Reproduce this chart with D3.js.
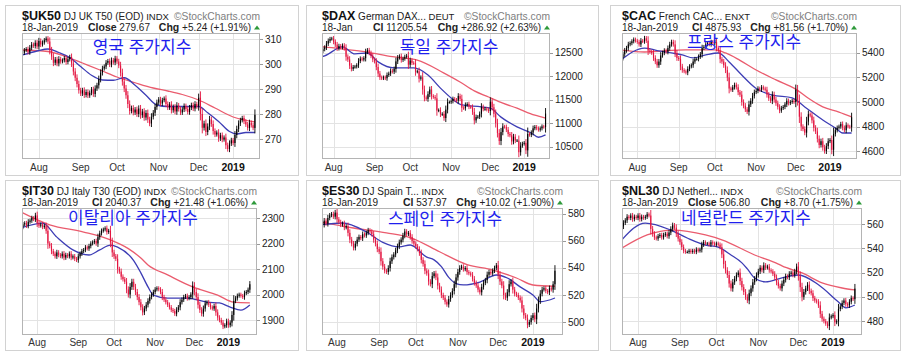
<!DOCTYPE html>
<html lang="ko">
<head>
<meta charset="UTF-8">
<title>유럽 주가지수</title>
<script src="https://d3js.org/d3.v7.min.js"></script>
<style>
  body { margin: 0; background: #fff; }
  svg text { font-family: "Liberation Sans", Arial, sans-serif; }
  svg text.kr { font-family: "Noto Sans CJK KR", sans-serif; }
</style>
</head>
<body>
<div id="chart"></div>
<script>
// trading days 19-Jul-2018 .. 18-Jan-2019
const holidays = ["2018-12-25", "2018-12-26", "2019-01-01"];
const fmtDay = d3.timeFormat("%Y-%m-%d");
const tradingDays = d3.timeDay.range(new Date(2018, 6, 19), new Date(2019, 0, 19))
  .filter(d => d.getDay() !== 0 && d.getDay() !== 6 && !holidays.includes(fmtDay(d)));

// daily closes
const ukClose = [304.5, 305.5,
  306, 304.8, 306.5, 307.8, 307.2,  308.5, 307.0, 309.2, 307.8, 308.6,
  309.5, 310.2, 309.0, 305.5, 303.0,  300.5, 301.8, 300.2, 302.0, 301.0,
  301.5, 302.4, 300.8, 301.9, 302.8,  300.2, 297.0, 294.5, 292.0, 289.5,
  288.2, 289.5, 287.6, 288.8, 287.4,  288.5, 289.8, 288.0, 290.2, 291.5,
  294.0, 296.5, 298.2, 299.0, 300.5,  301.2, 299.8, 301.5, 300.6, 302.2,
  301.0, 299.4, 296.5, 293.0, 290.2,  287.5, 284.0, 281.2, 282.4, 280.6,
  281.8, 280.0, 282.2, 279.5, 281.0,  278.6, 280.4, 277.8, 276.2, 278.9,
  280.5, 282.8, 284.6, 285.8, 284.2,  285.5, 286.2, 284.0, 282.6, 283.8,
  281.5, 282.8, 281.0, 283.4, 282.0,  280.6, 281.8, 283.2, 282.0, 280.8,
  282.5, 283.6, 282.2, 284.0, 283.0,  286.5, 280.0, 274.5, 276.2, 272.8,
  275.0, 277.8, 276.0, 273.2, 271.8,  272.6, 270.2, 271.5, 269.8, 270.6,
  267.5, 266.0, 268.2,  269.5, 268.4, 271.6, 274.0,
  276.2, 277.5, 278.4, 277.0, 275.8,  274.4, 276.5, 275.5, 274.43, 279.67];
const daxClose = [12560, 12600,
  12540, 12580, 12620, 12700, 12760,  12800, 12810, 12740, 12680, 12600,
  12650, 12620, 12660, 12600, 12420,  12360, 12230, 12160, 12200, 12210,
  12240, 12330, 12380, 12360, 12390,  12520, 12560, 12500, 12440, 12360,
  12320, 12200, 12060, 11980, 11960,  11980, 11960, 12030, 12060, 12120,
  12100, 12160, 12320, 12400, 12430,  12350, 12380, 12420, 12440, 12250,
  12340, 12290, 12280, 12100, 12110,  11950, 11980, 11720, 11550, 11520,
  11620, 11720, 11580, 11560, 11530,  11270, 11280, 11190, 11200, 11110,
  11290, 11450, 11450, 11470, 11520,  11500, 11480, 11580, 11520, 11330,
  11320, 11390, 11410, 11350, 11340,  11240, 11060, 11130, 11140, 11200,
  11350, 11300, 11310, 11290, 11260,  11460, 11340, 11200, 11000, 10790,
  10620, 10810, 10930, 10920, 10860,  10770, 10740, 10610, 10710, 10630,
  10630, 10380, 10520,  10560, 10580, 10420, 10770,
  10750, 10800, 10890, 10920, 10890,  10860, 10890, 10930, 10918.6, 11205.5];
const cacClose = [5360, 5390,
  5420, 5440, 5470, 5480, 5495,  5510, 5500, 5490, 5470, 5500,
  5495, 5520, 5500, 5420, 5410,  5400, 5360, 5330, 5300, 5330,
  5380, 5400, 5420, 5410, 5440,  5470, 5490, 5470, 5400, 5360,
  5350, 5290, 5260, 5250, 5240,  5270, 5290, 5300, 5330, 5350,
  5350, 5370, 5390, 5440, 5450,  5470, 5480, 5470, 5490, 5480,
  5490, 5440, 5420, 5350, 5330,  5300, 5260, 5200, 5110, 5100,
  5120, 5140, 5120, 5080, 5060,  5000, 4970, 4940, 4920, 4980,
  5010, 5050, 5080, 5090, 5110,  5100, 5120, 5110, 5100, 5060,
  5030, 5010, 5060, 5020, 4990,  4960, 4930, 4950, 4960, 4980,
  5010, 4990, 5000, 5010, 5000,  5100, 5010, 4880, 4800, 4780,
  4750, 4840, 4900, 4890, 4850,  4790, 4760, 4700, 4650, 4680,
  4630, 4600, 4640,  4680, 4690, 4610, 4740,
  4770, 4790, 4800, 4820, 4790,  4770, 4810, 4800, 4794.4, 4875.9];
const itClose = [2265, 2275,
  2280, 2270, 2285, 2290, 2300,  2295, 2310, 2280, 2270, 2275,
  2265, 2270, 2250, 2200, 2190,  2170, 2160, 2150, 2165, 2155,
  2150, 2160, 2145, 2155, 2150,  2160, 2145, 2150, 2140, 2135,
  2150, 2160, 2170, 2175, 2185,  2180, 2190, 2200, 2205, 2210,
  2200, 2225, 2240, 2250, 2255,  2260, 2245, 2250, 2205, 2165,
  2150, 2140, 2100, 2090, 2070,  2060, 2050, 2020, 2000, 2030,
  2050, 2030, 2010, 1990, 1970,  1950, 1930, 1945, 1960, 1975,
  1990, 2000, 2010, 2020, 2025,  2020, 2010, 1990, 1980, 1970,
  1960, 1950, 1940, 1935, 1925,  1940, 1950, 1970, 1980, 1990,
  1995, 1985, 1990, 2000, 2035,  2010, 1990, 1960, 1940, 1925,
  1945, 1965, 1970, 1960, 1950,  1945, 1955, 1930, 1910, 1900,
  1890, 1875, 1880,  1895, 1880, 1890, 1920,
  1975, 1985, 1995, 2000, 1995,  1990, 2005, 2010, 2018.9, 2040.4];
const esClose = [570, 572,
  575, 573, 577, 579, 580,  578, 581, 576, 574, 572,
  573, 570, 571, 566, 561,  558, 555, 558, 561, 563,
  562, 565, 564, 566, 568,  567, 565, 561, 558, 554,
  552, 545, 541, 538, 537,  540, 545, 548, 550, 553,
  556, 559, 561, 564, 567,  565, 566, 563, 560, 558,
  556, 554, 551, 546, 543,  538, 536, 530, 528, 534,
  536, 533, 527, 524, 520,  518, 515, 513, 517, 520,
  523, 528, 533, 537, 540,  541, 539, 540, 537, 536,
  535, 532, 529, 527, 524,  522, 526, 529, 531, 535,
  537, 536, 538, 540, 542,  535, 530, 527, 520, 518,
  522, 528, 530, 524, 521,  520, 518, 516, 510, 505,
  503, 498, 500,  503, 505, 502, 510,
  516, 521, 524, 525, 523,  522, 525, 524, 527.95, 537.97];
const nlClose = [558, 561,
  563, 566, 565, 567, 564,  566, 565, 567, 564, 566,
  565, 566, 568, 567, 556,  552, 549, 548, 550, 551,
  549, 551, 552, 550, 553,  556, 559, 557, 552, 548,
  545, 541, 538, 537, 537,  538, 537, 538, 537, 539,
  538, 539, 543, 545, 544,  544, 543, 545, 544, 543,
  544, 543, 541, 535, 527,  522, 518, 511, 507, 512,
  515, 518, 520, 513, 508,  504, 500, 497, 503, 507,
  512, 515, 518, 521, 524,  522, 526, 524, 525, 522,
  521, 519, 516, 512, 509,  507, 511, 514, 517, 516,
  519, 520, 518, 521, 525,  517, 508, 500, 504, 507,
  510, 505, 503, 499, 497,  496, 493, 486, 482, 480,
  478, 476, 483,  484, 485, 479, 480,
  490, 492, 495, 497, 494,  493, 496, 499, 498.1, 506.8];

// moving averages, [day index, value]
const ukFast = [[0,303.6],[8,305.2],[14,306],[20,304.6],[26,302.6],[32,299],[38,295.5],[44,293.6],[50,293.5],[56,294.5],[62,291.5],[68,287.5],[74,283.6],[80,283],[88,283],[97,283],[102,280.5],[108,277],[114,273],[118,272],[123,272.6],[128,272.6]];
const ukSlow = [[0,305.6],[14,305],[24,303],[33,300.4],[43,297.5],[52,294.8],[62,292.5],[72,290.4],[80,289.2],[88,287.8],[97,285.6],[106,282.4],[116,278.8],[128,276.8]];
const daxFast = [[0,12400],[4,12440],[14,12630],[21,12480],[28,12500],[34,12310],[43,12180],[48,12180],[54,12180],[62,12030],[69,11750],[75,11540],[81,11390],[92,11350],[97,11320],[103,11130],[112,10920],[120,10790],[124,10700],[128,10750]];
const daxSlow = [[0,12650],[4,12630],[28,12520],[42,12420],[56,12350],[71,12070],[80,11880],[88,11690],[96,11560],[104,11430],[112,11320],[122,11170],[128,11110]];
const cacFast = [[0,5343],[13,5440],[20,5420],[28,5400],[34,5384],[40,5360],[47,5384],[54,5400],[60,5327],[67,5220],[75,5110],[84,5057],[95,5033],[102,4960],[112,4853],[119,4788],[123,4747],[128,4747]];
const cacSlow = [[0,5425],[13,5408],[36,5425],[52,5425],[58,5400],[66,5340],[75,5261],[86,5180],[97,5105],[104,5030],[112,4960],[121,4918],[128,4878]];
const itFast = [[0,2261],[12,2280],[20,2225],[29,2175],[38,2155],[44,2175],[50,2194],[54,2186],[63,2133],[67,2085],[71,2030],[74,1998],[82,1986],[93,1986],[104,1970],[111,1967],[117,1951],[123,1939],[128,1959]];
const itSlow = [[0,2323],[16,2273],[35,2245],[50,2214],[60,2180],[67,2143],[71,2116],[82,2077],[96,2030],[110,1998],[119,1970],[128,1967]];
const esFast = [[0,571.9],[12,573.3],[25,566.7],[34,559],[43,555.6],[49,557],[58,548],[62,546],[66,541],[70,533],[74,528.5],[78,527.5],[87,529.6],[96,534.8],[102,532.6],[109,526],[116,520],[120,515],[128,517.8]];
const esSlow = [[0,574],[18,569.6],[36,566],[50,562],[65,552],[80,542.5],[94,538.5],[107,532.6],[116,527.4],[128,526.5]];
const nlFast = [[0,546.8],[13,560.8],[27,555],[36,548.5],[46,542.7],[53,541],[60,534.5],[66,528],[69,523],[73,515.6],[79,512.3],[88,515.6],[97,518],[108,510],[119,495.8],[123,491],[128,493.3]];
const nlSlow = [[0,540],[14,551],[28,555],[46,551],[55,547],[73,534.5],[86,527],[88,525.5],[99,519.7],[110,511.5],[121,507.3],[128,505.7]];

// y tick labels
const ukTicks = [270, 280, 290, 300, 310];
const daxTicks = [10500, 11000, 11500, 12000, 12500];
const cacTicks = [4600, 4800, 5000, 5200, 5400];
const itTicks = [1900, 2000, 2100, 2200, 2300];
const esTicks = [500, 520, 540, 560, 580];
const nlTicks = [480, 500, 520, 540, 560];

const panels = [
  { sym: "$UK50", name: "DJ UK T50 (EOD)", exch: "INDX", date: "18-Jan-2019", clLbl: "Close", last: "279.67", chg: "+5.24 (+1.91%)",
    title: "영국 주가지수", close: ukClose, fast: ukFast, slow: ukSlow, ticks: ukTicks,
    box: [5, 5, 298, 175], plot: [22, 33, 260, 159], xDom: [-0.3, 130.8], yDom: [262, 312.4], clX: 88, titleX: 142, titleY: 53 },
  { sym: "$DAX", name: "German DAX...", exch: "DEUT", date: "18-Jan", clLbl: "Cl", last: "11205.54", chg: "+286.92 (+2.63%)",
    title: "독일 주가지수", close: daxClose, fast: daxFast, slow: daxSlow, ticks: daxTicks,
    box: [306, 5, 598, 175], plot: [322, 33, 550, 159], xDom: [2.5, 130.5], yDom: [10235, 12927], clX: 373, titleX: 449, titleY: 53 },
  { sym: "$CAC", name: "French CAC...", exch: "ENXT", date: "18-Jan-2019", clLbl: "Cl", last: "4875.93", chg: "+81.56 (+1.70%)",
    title: "프랑스 주가지수", close: cacClose, fast: cacFast, slow: cacSlow, ticks: cacTicks,
    box: [610, 5, 900, 175], plot: [622, 33, 857, 159], xDom: [0.5, 131], yDom: [4535, 5563], clX: 692, titleX: 744, titleY: 48 },
  { sym: "$IT30", name: "DJ Italy T30 (EOD)", exch: "INDX", date: "18-Jan-2019", clLbl: "Cl", last: "2040.37", chg: "+21.48 (+1.06%)",
    title: "이탈리아 주가지수", close: itClose, fast: itFast, slow: itSlow, ticks: itTicks,
    box: [5, 180, 298, 350], plot: [22, 208, 257, 335], xDom: [0.5, 132], yDom: [1841.4, 2339.2], clX: 92, titleX: 133, titleY: 224 },
  { sym: "$ES30", name: "DJ Spain T...", exch: "INDX", date: "18-Jan-2019", clLbl: "Cl", last: "537.97", chg: "+10.02 (+1.90%)",
    title: "스페인 주가지수", close: esClose, fast: esFast, slow: esSlow, ticks: esTicks,
    box: [306, 180, 598, 350], plot: [322, 208, 563, 335], xDom: [0.8, 132.4], yDom: [490.4, 584.4], clX: 403, titleX: 445, titleY: 225 },
  { sym: "$NL30", name: "DJ Netherl...", exch: "INDX", date: "18-Jan-2019", clLbl: "Close", last: "506.80", chg: "+8.70 (+1.75%)",
    title: "네덜란드 주가지수", close: nlClose, fast: nlFast, slow: nlSlow, ticks: nlTicks,
    box: [610, 180, 900, 350], plot: [622, 208, 862, 335], xDom: [0.2, 131.9], yDom: [468.6, 573.2], clX: 688, titleX: 746, titleY: 224 }
];

// month ticks: first trading day of each month
const monthTicks = tradingDays.map((d, i) => ({ d, i }))
  .filter((t, i, a) => i > 0 && t.d.getMonth() !== a[i - 1].d.getMonth())
  .map(t => ({ i: t.i, label: t.d.getMonth() === 0 ? "2019" : d3.timeFormat("%b")(t.d), bold: t.d.getMonth() === 0 }));

const svg = d3.select("#chart").append("svg")
  .attr("width", 904)
  .attr("height", 357);

panels.forEach((p, k) => {
  const [bx0, by0, bx1, by1] = p.box;
  const [pl, pt, pr, pb] = p.plot;
  const g = svg.append("g");

  g.append("rect")
    .attr("x", bx0 + 0.5).attr("y", by0 + 0.5)
    .attr("width", bx1 - bx0).attr("height", by1 - by0)
    .attr("fill", "#fff").attr("stroke", "#d2d2d2");

  const x = d3.scaleLinear().domain(p.xDom).range([pl, pr]);
  const y = d3.scaleLinear().domain(p.yDom).range([pb, pt]);

  // header line 1
  const h1 = g.append("text").attr("x", pl).attr("y", by0 + 14.5).attr("fill", "#222").style("font-size", "10px");
  h1.append("tspan").text(p.sym).style("font-weight", "bold").style("font-size", "12.5px").attr("fill", "#111");
  h1.append("tspan").text(" " + p.name);
  h1.append("tspan").text(" " + p.exch).style("font-size", "9.5px");
  g.append("text").attr("x", pr).attr("y", by0 + 14.5).attr("text-anchor", "end")
    .attr("fill", "#808080").style("font-size", "10.3px").text("©StockCharts.com");

  // header line 2
  const ly = by0 + 25.5;
  g.append("text").attr("x", pl).attr("y", ly).attr("fill", "#222").style("font-size", "10px").text(p.date);
  const cl = g.append("text").attr("x", p.clX).attr("y", ly).attr("fill", "#222").style("font-size", "10px");
  cl.append("tspan").text(p.clLbl).style("font-weight", "bold").style("font-size", "10.5px");
  cl.append("tspan").text(" " + p.last);
  const ch = g.append("text").attr("x", pr - 9).attr("y", ly).attr("text-anchor", "end").attr("fill", "#222").style("font-size", "10px");
  ch.append("tspan").text("Chg").style("font-weight", "bold").style("font-size", "10.5px");
  ch.append("tspan").text(" " + p.chg);
  g.append("path")
    .attr("d", `M${pr - 6},${ly - 1} L${pr},${ly - 1} L${pr - 3},${ly - 5} Z`)
    .attr("fill", "#2e9a3a");

  // grid
  g.selectAll(".vg").data(monthTicks).enter().append("line")
    .attr("x1", d => Math.round(x(d.i)) + 0.5).attr("x2", d => Math.round(x(d.i)) + 0.5)
    .attr("y1", pt).attr("y2", pb)
    .attr("stroke", "#e3e3e3");
  g.selectAll(".hg").data(p.ticks).enter().append("line")
    .attr("x1", pl).attr("x2", pr)
    .attr("y1", d => Math.round(y(d)) + 0.5).attr("y2", d => Math.round(y(d)) + 0.5)
    .attr("stroke", "#e3e3e3");

  // y labels
  g.selectAll(".yt").data(p.ticks).enter().append("line")
    .attr("x1", pr).attr("x2", pr + 3)
    .attr("y1", d => Math.round(y(d)) + 0.5).attr("y2", d => Math.round(y(d)) + 0.5)
    .attr("stroke", "#999");
  g.selectAll(".yl").data(p.ticks).enter().append("text")
    .attr("x", pr + 5).attr("y", d => y(d) + 3.5)
    .attr("fill", "#222").style("font-size", "10px")
    .text(d => d);

  // x labels
  g.selectAll(".xl").data(monthTicks).enter().append("text")
    .attr("x", d => x(d.i)).attr("y", by0 + 166)
    .attr("text-anchor", "middle")
    .attr("fill", d => d.bold ? "#111" : "#333")
    .style("font-size", d => d.bold ? "10.5px" : "10px")
    .style("font-weight", d => d.bold ? "bold" : "normal")
    .text(d => d.label);

  // clip
  const clipId = "clip" + k;
  svg.append("clipPath").attr("id", clipId).append("rect")
    .attr("x", pl).attr("y", pt).attr("width", pr - pl).attr("height", pb - pt);
  const inner = g.append("g").attr("clip-path", `url(#${clipId})`);

  // moving averages
  const line = d3.line().x(d => x(d[0])).y(d => y(d[1])).curve(d3.curveMonotoneX);
  inner.append("path").datum(p.slow).attr("d", line)
    .attr("fill", "none").attr("stroke", "#ea5c6e").attr("stroke-width", 1.3);
  inner.append("path").datum(p.fast).attr("d", line)
    .attr("fill", "none").attr("stroke", "#3d3db5").attr("stroke-width", 1.3);

  // candles
  const step = Math.abs(x(1) - x(0));
  const bw = Math.max(1, step * 0.62);
  const candles = p.close.map((c, i) => ({ i, o: i ? p.close[i - 1] : c, c }));
  const cg = inner.selectAll(".candle").data(candles).enter().append("g");
  cg.append("line")
    .attr("x1", d => x(d.i)).attr("x2", d => x(d.i))
    .attr("y1", d => { const h = Math.abs(y(d.o) - y(d.c)); return Math.min(y(d.o), y(d.c)) - 1.5 - h * 0.3; })
    .attr("y2", d => { const h = Math.abs(y(d.o) - y(d.c)); return Math.max(y(d.o), y(d.c)) + 1.5 + h * 0.3; })
    .attr("stroke", d => d.c >= d.o ? "#000" : "#e3143f")
    .attr("stroke-width", 0.9);
  cg.append("rect")
    .attr("x", d => x(d.i) - bw / 2)
    .attr("y", d => Math.min(y(d.o), y(d.c)))
    .attr("width", bw)
    .attr("height", d => Math.max(1, Math.abs(y(d.o) - y(d.c))))
    .attr("fill", d => d.c >= d.o ? "#000" : "#e3143f");

  // plot frame
  g.append("rect")
    .attr("x", pl + 0.5).attr("y", pt + 0.5)
    .attr("width", pr - pl - 1).attr("height", pb - pt - 1)
    .attr("fill", "none").attr("stroke", "#b4b4b4");

  // korean title
  g.append("text").attr("class", "kr")
    .attr("x", p.titleX).attr("y", p.titleY)
    .attr("text-anchor", "middle")
    .attr("fill", "#1f1fee")
    .style("font-size", "17px")
    .text(p.title);
});
</script>
</body>
</html>
